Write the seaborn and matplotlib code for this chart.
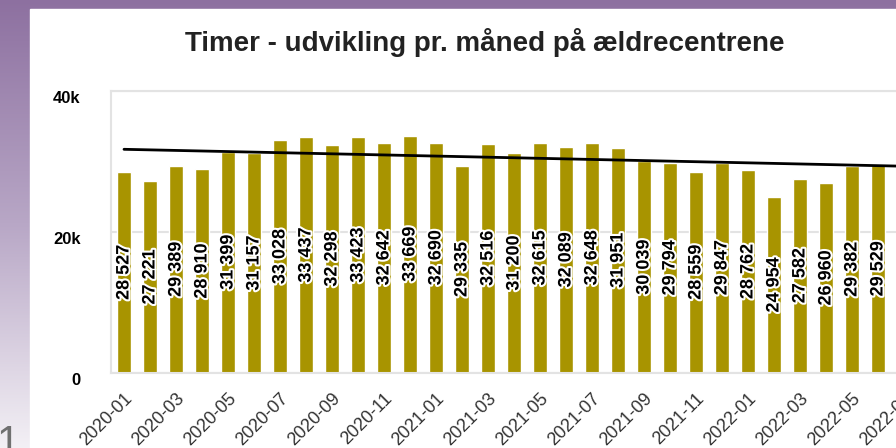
import numpy as np
import pandas as pd
import seaborn as sns
import matplotlib.pyplot as plt
import matplotlib.patheffects as pe
from matplotlib.colors import LinearSegmentedColormap
from matplotlib.patches import Rectangle

# months shown on the axis (the last one has its bar outside the cropped view)
months = ["2020-01", "2020-02", "2020-03", "2020-04", "2020-05", "2020-06",
          "2020-07", "2020-08", "2020-09", "2020-10", "2020-11", "2020-12",
          "2021-01", "2021-02", "2021-03", "2021-04", "2021-05", "2021-06",
          "2021-07", "2021-08", "2021-09", "2021-10", "2021-11", "2021-12",
          "2022-01", "2022-02", "2022-03", "2022-04", "2022-05", "2022-06",
          "2022-07"]
hours = [28527, 27221, 29389, 28910, 31399, 31157, 33028, 33437, 32298, 33423,
         32642, 33669, 32690, 29335, 32516, 31200, 32615, 32089, 32648, 31951,
         30039, 29794, 28559, 29847, 28762, 24954, 27582, 26960, 29382, 29529]
trend_ends = [31730, 29330]   # trend line value at first and last month
y_ticks = [0, 20000, 40000]
y_labels = ["0", "20k", "40k"]
title = "Timer - udvikling pr. måned på ældrecentrene"

sns.set_style("white")
plt.rcParams["font.family"] = ["Liberation Sans", "DejaVu Sans"]

fig = plt.figure(figsize=(8.96, 4.48), dpi=100)

# slide background: purple gradient + white panel
bg = fig.add_axes([0, 0, 1, 1], zorder=-10)
cmap = LinearSegmentedColormap.from_list("slide", ["#8d70a0", "#b8a7c6", "#f3f0f5"])
bg.imshow(np.linspace(0, 1, 256).reshape(-1, 1), aspect="auto", cmap=cmap,
          extent=[0, 1, 0, 1])
bg.add_patch(Rectangle((30 / 896, 0), 1, 1 - 9 / 448, color="white"))
bg.set_xlim(0, 1)
bg.set_ylim(0, 1)
bg.axis("off")
fig.text(-0.004, -0.035, "1", fontsize=30, color="#707070", ha="left", va="bottom")

ax = fig.add_axes([111 / 896, 1 - 373 / 448, 806 / 896, 282 / 448])
df = pd.DataFrame({"month": months[:len(hours)], "hours": hours})
sns.barplot(data=df, x="month", y="hours", order=months, color="#a89400",
            saturation=1, width=0.54, ax=ax)

ax.plot([0, len(months) - 1], trend_ends, color="black", lw=2, zorder=5)

# value labels inside bars
for i, v in enumerate(hours):
    ax.text(i, v / 2, f"{v:,}".replace(",", " "), rotation=90, ha="center",
            va="center", fontsize=13, fontweight="bold", color="black",
            path_effects=[pe.withStroke(linewidth=3, foreground="white")], zorder=6)

ax.set_ylim(0, 40000)
ax.set_xlim(-0.5, len(months) - 0.5)
ax.set_yticks(y_ticks)
ax.set_yticklabels(y_labels, fontsize=12, fontweight="bold", color="black", va="top")
ax.set_xticks(range(0, len(months), 2))
ax.set_xticklabels(months[::2], rotation=45, ha="right", rotation_mode="anchor",
                   fontsize=13, color="#333333")
ax.tick_params(axis="x", length=0, pad=12)
ax.tick_params(axis="y", length=0, pad=22)
ax.yaxis.grid(True, color="#e3e3e3", lw=1.5)
ax.set_axisbelow(True)
for s in ax.spines.values():
    s.set_color("#e3e3e3")
    s.set_linewidth(1.5)
ax.set_xlabel("")
ax.set_ylabel("")

fig.text(0.541, 0.906, title, ha="center", va="center", fontsize=20,
         fontweight="bold", color="#222222")

fig.savefig("out.png", dpi=100)
